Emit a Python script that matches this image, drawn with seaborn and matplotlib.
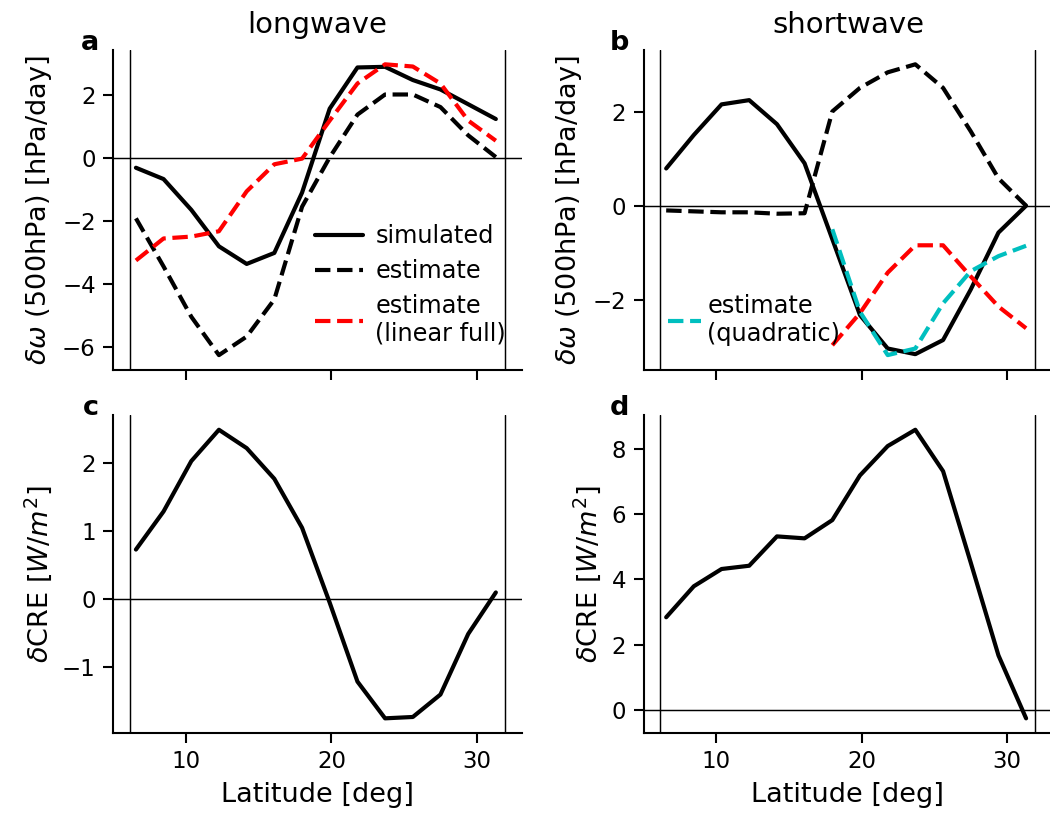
import numpy as np
import matplotlib
matplotlib.use("Agg")
import matplotlib.pyplot as plt
import seaborn as sns

# ---------------- data ----------------
lat = [6.55, 8.45, 10.36, 12.26, 14.17, 16.07, 17.98, 19.88, 21.79, 23.69, 25.60, 27.50, 29.41, 31.31]

# longwave omega
lw_sim = [-0.31, -0.67, -1.65, -2.81, -3.37, -3.02, -1.10, 1.57, 2.88, 2.90, 2.48, 2.18, 1.71, 1.24]
lw_est = [-1.92, -3.45, -5.05, -6.27, -5.68, -4.50, -1.55, 0.02, 1.38, 2.02, 2.02, 1.62, 0.72, 0.03]
lw_lin = [-3.26, -2.56, -2.50, -2.33, -1.06, -0.20, -0.02, 1.19, 2.37, 2.98, 2.91, 2.37, 1.19, 0.55]

# shortwave omega
sw_sim = [0.80, 1.51, 2.16, 2.25, 1.74, 0.91, -0.70, -2.31, -3.02, -3.14, -2.84, -1.77, -0.56, 0.01]
sw_est = [-0.09, -0.11, -0.13, -0.13, -0.16, -0.15, 2.01, 2.51, 2.84, 3.01, 2.51, 1.59, 0.59, 0.01]
sw_lin = [-2.95, -2.27, -1.41, -0.83, -0.83, -1.49, -2.13, -2.59]          # from lat[6:]
sw_quad = [-0.49, -2.24, -3.16, -3.02, -2.06, -1.38, -1.06, -0.84]         # from lat[6:]

# CRE
lw_cre = [0.73, 1.29, 2.03, 2.49, 2.22, 1.77, 1.05, -0.05, -1.21, -1.75, -1.73, -1.40, -0.51, 0.10]
sw_cre = [2.84, 3.79, 4.32, 4.42, 5.32, 5.26, 5.82, 7.19, 8.09, 8.59, 7.32, 4.52, 1.67, -0.26]

vlines = [6.14, 31.95]
titles = ["longwave", "shortwave"]
letters = ["a", "b", "c", "d"]
omega_label = r"$\delta\omega$ (500hPa) [hPa/day]"
cre_label = r"$\delta$CRE [$W/m^2$]"
xlabel = "Latitude [deg]"

# ---------------- style ----------------
sns.set_style("ticks")
plt.rcParams["font.family"] = ["DejaVu Sans"]
plt.rcParams.update({
    "xtick.labelsize": 11, "ytick.labelsize": 11,
    "axes.labelsize": 13, "axes.titlesize": 14,
    "axes.linewidth": 1.0,
    "axes.edgecolor": "black", "axes.labelcolor": "black", "text.color": "black",
    "xtick.color": "black", "ytick.color": "black",
    "xtick.major.size": 5, "ytick.major.size": 5,
    "xtick.major.width": 1.0, "ytick.major.width": 1.0,
    "legend.fontsize": 11.5,
})

fig = plt.figure(figsize=(7, 5.44), dpi=150)
W = 0.389
ax_a = fig.add_axes([0.108, 0.547, W, 0.392])
ax_b = fig.add_axes([0.613, 0.547, W, 0.392], sharex=ax_a)
ax_c = fig.add_axes([0.108, 0.102, W, 0.389], sharex=ax_a)
ax_d = fig.add_axes([0.613, 0.102, W, 0.389], sharex=ax_a)
axes = [ax_a, ax_b, ax_c, ax_d]

LW = 2.0
lat6 = lat[6:]

# panel a
sns.lineplot(x=lat, y=lw_sim, ax=ax_a, color="k", lw=LW, label="simulated")
sns.lineplot(x=lat, y=lw_est, ax=ax_a, color="k", lw=LW, linestyle="--", label="estimate")
sns.lineplot(x=lat, y=lw_lin, ax=ax_a, color="r", lw=LW, linestyle="--", label="estimate\n(linear full)")
ax_a.legend(loc="lower right", bbox_to_anchor=(1.02, 0.0), frameon=False, handlelength=2.0,
            borderaxespad=0.6, labelspacing=0.45, handletextpad=0.5)

# panel b
sns.lineplot(x=lat, y=sw_sim, ax=ax_b, color="k", lw=LW)
sns.lineplot(x=lat, y=sw_est, ax=ax_b, color="k", lw=LW, linestyle="--")
sns.lineplot(x=lat6, y=sw_lin, ax=ax_b, color="r", lw=LW, linestyle="--")
sns.lineplot(x=lat6, y=sw_quad, ax=ax_b, color="c", lw=LW, linestyle="--", label="estimate\n(quadratic)")
ax_b.legend(loc="lower left", frameon=False, handlelength=1.4, borderaxespad=0.6,
            handletextpad=0.25)

# panel c, d
sns.lineplot(x=lat, y=lw_cre, ax=ax_c, color="k", lw=LW)
sns.lineplot(x=lat, y=sw_cre, ax=ax_d, color="k", lw=LW)

for i, ax in enumerate(axes):
    ax.axhline(0, color="k", lw=0.7, zorder=0)
    for v in vlines:
        ax.axvline(v, color="k", lw=0.7, zorder=0)
    ax.text(-0.035, 1.0, letters[i], transform=ax.transAxes, ha="right", va="baseline",
            fontsize=13, fontweight="bold")
    sns.despine(ax=ax)

ax_a.set_xlim(5.0, 33.1)
ax_a.set_xticks([10, 20, 30])
ax_a.set_title(titles[0], pad=8)
ax_b.set_title(titles[1], pad=8)
ax_a.set_ylabel(omega_label)
ax_b.set_ylabel(omega_label)
ax_c.set_ylabel(cre_label)
ax_d.set_ylabel(cre_label)
ax_c.set_xlabel(xlabel)
ax_d.set_xlabel(xlabel)
ax_a.set_yticks([-6, -4, -2, 0, 2])
ax_b.set_yticks([-2, 0, 2])
ax_c.set_yticks([-1, 0, 1, 2])
ax_d.set_yticks([0, 2, 4, 6, 8])
for ax in (ax_a, ax_b):
    ax.tick_params(labelbottom=False)

fig.savefig("out.png", dpi=150)
